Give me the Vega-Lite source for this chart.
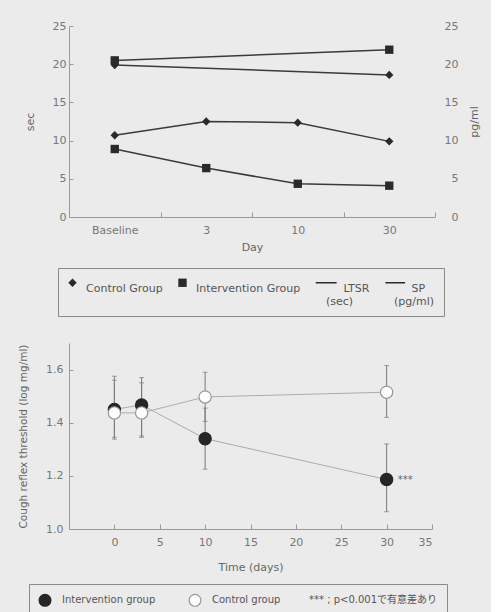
{
  "$schema": "https://vega.github.io/schema/vega-lite/v6.json",
  "background": "#ebebeb",
  "padding": {"left": 18, "top": 20, "right": 12, "bottom": 0},
  "spacing": 26,
  "config": {
    "view": {"stroke": null},
    "font": "DejaVu Sans",
    "axis": {
      "grid": false,
      "domainColor": "#9a9a9a",
      "tickColor": "#9a9a9a",
      "labelColor": "#777777",
      "titleColor": "#666666",
      "labelFont": "DejaVu Sans",
      "titleFont": "DejaVu Sans",
      "labelFontSize": 11,
      "titleFontSize": 11,
      "titleFontWeight": "normal",
      "labelOverlap": false
    },
    "legend": {
      "labelFont": "DejaVu Sans, Noto Sans CJK JP",
      "labelColor": "#555555",
      "labelFontSize": 11
    }
  },
  "vconcat": [
    {
      "width": 366,
      "height": 191,
      "data": {
        "values": [
          {"day": "Baseline", "group": "Control Group", "measure": "LTSR", "value": 10.7},
          {"day": "3", "group": "Control Group", "measure": "LTSR", "value": 12.5},
          {"day": "10", "group": "Control Group", "measure": "LTSR", "value": 12.35},
          {"day": "30", "group": "Control Group", "measure": "LTSR", "value": 9.9},
          {"day": "Baseline", "group": "Intervention Group", "measure": "LTSR", "value": 8.9},
          {"day": "3", "group": "Intervention Group", "measure": "LTSR", "value": 6.4},
          {"day": "10", "group": "Intervention Group", "measure": "LTSR", "value": 4.35},
          {"day": "30", "group": "Intervention Group", "measure": "LTSR", "value": 4.1},
          {"day": "Baseline", "group": "Control Group", "measure": "SP", "value": 19.9},
          {"day": "30", "group": "Control Group", "measure": "SP", "value": 18.6},
          {"day": "Baseline", "group": "Intervention Group", "measure": "SP", "value": 20.5},
          {"day": "30", "group": "Intervention Group", "measure": "SP", "value": 21.9}
        ]
      },
      "layer": [
        {
          "transform": [{"filter": "datum.measure == 'LTSR'"}],
          "encoding": {
            "x": {
              "field": "day", "type": "ordinal", "sort": ["Baseline", "3", "10", "30"],
              "scale": {"paddingInner": 0, "paddingOuter": 0},
              "axis": {"title": "Day", "labelAngle": 0, "tickBand": "extent", "tickSize": -5, "labelPadding": 12, "titlePadding": 6}
            },
            "y": {
              "field": "value", "type": "quantitative",
              "scale": {"domain": [0, 25], "nice": false},
              "axis": {"title": "sec", "values": [0, 5, 10, 15, 20, 25], "tickSize": -4, "labelPadding": 7, "titlePadding": 17}
            }
          },
          "layer": [
            {"mark": {"type": "line", "color": "#3a3a3a", "strokeWidth": 1.5}, "encoding": {"detail": {"field": "group"}}},
            {
              "mark": {"type": "point", "filled": true, "color": "#2a2a2a", "opacity": 1, "size": 70},
              "encoding": {
                "shape": {
                  "field": "group", "type": "nominal",
                  "scale": {"domain": ["Control Group", "Intervention Group", "LTSR", "SP"], "range": ["diamond", "square", "M-0.9,-0.18H4.1V0.18H-0.9Z", "M-0.5,-0.18H4.2V0.18H-0.5Z"]},
                  "legend": {
                    "title": null, "orient": "none", "legendX": -11, "legendY": 242,
                    "direction": "horizontal", "columns": 4,
                    "symbolSize": 70, "symbolFillColor": "#2a2a2a", "symbolStrokeColor": "#2a2a2a", "symbolStrokeWidth": 1.3,
                    "strokeColor": "#8a8a8a", "padding": 9, "columnPadding": 12, "labelOffset": 1,
                    "labelBaseline": "top", "labelLineHeight": 18,
                    "labelExpr": "datum.label == 'LTSR' ? ['\u200b\u00a0\u00a0\u00a0\u00a0\u00a0LTSR', '(sec)'] : datum.label == 'SP' ? ['\u200b\u00a0\u00a0\u00a0\u00a0\u00a0SP', '(pg/ml)'] : ['\u200b\u00a0\u00a0' + datum.label, '\u200b']"
                  }
                }
              }
            }
          ]
        },
        {
          "transform": [{"filter": "datum.measure == 'SP'"}],
          "encoding": {
            "x": {"field": "day", "type": "ordinal", "sort": ["Baseline", "3", "10", "30"]},
            "y": {
              "field": "value", "type": "quantitative",
              "scale": {"domain": [0, 25], "nice": false},
              "axis": {"orient": "right", "title": "pg/ml", "titleAngle": -90, "values": [0, 5, 10, 15, 20, 25], "domain": false, "ticks": false, "labelAlign": "right", "labelPadding": 23, "titlePadding": 21}
            }
          },
          "layer": [
            {"mark": {"type": "line", "color": "#3a3a3a", "strokeWidth": 1.5}, "encoding": {"detail": {"field": "group"}}},
            {
              "mark": {"type": "point", "filled": true, "color": "#2a2a2a", "opacity": 1, "size": 70},
              "encoding": {"shape": {"field": "group", "type": "nominal"}}
            }
          ]
        }
      ],
      "resolve": {"scale": {"y": "independent"}}
    },
    {
      "width": 363,
      "height": 186,
      "data": {
        "values": [
          {"day": 0, "group": "Intervention group", "mean": 1.45, "lo": 1.345, "hi": 1.575, "sig": ""},
          {"day": 3, "group": "Intervention group", "mean": 1.467, "lo": 1.35, "hi": 1.57, "sig": ""},
          {"day": 10, "group": "Intervention group", "mean": 1.34, "lo": 1.225, "hi": 1.455, "sig": ""},
          {"day": 30, "group": "Intervention group", "mean": 1.186, "lo": 1.065, "hi": 1.32, "sig": "***"},
          {"day": 0, "group": "Control group", "mean": 1.437, "lo": 1.338, "hi": 1.56, "sig": ""},
          {"day": 3, "group": "Control group", "mean": 1.437, "lo": 1.345, "hi": 1.55, "sig": ""},
          {"day": 10, "group": "Control group", "mean": 1.497, "lo": 1.405, "hi": 1.59, "sig": ""},
          {"day": 30, "group": "Control group", "mean": 1.515, "lo": 1.42, "hi": 1.615, "sig": ""}
        ]
      },
      "encoding": {
        "x": {
          "field": "day", "type": "quantitative",
          "scale": {"domain": [-5, 35], "nice": false},
          "axis": {"title": "Time (days)", "values": [0, 5, 10, 15, 20, 25, 30, 35], "tickSize": -5, "labelPadding": 12, "titlePadding": 14}
        }
      },
      "layer": [
        {
          "mark": {"type": "line", "color": "#acacac", "strokeWidth": 1},
          "encoding": {
            "y": {
              "field": "mean", "type": "quantitative",
              "scale": {"domain": [1.0, 1.7], "nice": false},
              "axis": {"title": "Cough reflex threshold (log mg/ml)", "values": [1.0, 1.1, 1.2, 1.3, 1.4, 1.5, 1.6, 1.7], "format": ".1f", "tickSize": -4, "labelPadding": 10, "titlePadding": 17, "titleFontSize": 10.5, "labelOverlap": false}
            },
            "detail": {"field": "group"}
          }
        },
        {
          "mark": {"type": "errorbar", "ticks": {"size": 5}, "color": "#7a7a7a"},
          "encoding": {
            "y": {
              "field": "lo", "type": "quantitative",
              "axis": {"title": "Cough reflex threshold (log mg/ml)", "values": [1.0, 1.1, 1.2, 1.3, 1.4, 1.5, 1.6, 1.7], "format": ".1f", "tickSize": -4, "labelPadding": 10, "titlePadding": 17, "titleFontSize": 10.5, "labelOverlap": false}
            },
            "y2": {"field": "hi"}
          }
        },
        {
          "mark": {"type": "point", "size": 150, "opacity": 1, "strokeWidth": 1.2},
          "encoding": {
            "y": {
              "field": "mean", "type": "quantitative",
              "axis": {"title": "Cough reflex threshold (log mg/ml)", "values": [1.0, 1.1, 1.2, 1.3, 1.4, 1.5, 1.6, 1.7], "format": ".1f", "tickSize": -4, "labelPadding": 10, "titlePadding": 17, "titleFontSize": 10.5, "labelOverlap": false}
            },
            "fill": {
              "field": "group", "type": "nominal",
              "scale": {"domain": ["Intervention group", "Control group", "*** ; p<0.001で有意差あり"], "range": ["#262626", "#ffffff", "rgba(0,0,0,0)"]},
              "legend": {"title": null, "orient": "none", "legendX": -40, "legendY": 241, "direction": "horizontal", "columns": 3, "symbolSize": 140, "symbolStrokeWidth": 1.2, "strokeColor": "#8a8a8a", "padding": 9, "columnPadding": 2, "labelOffset": 10, "labelFontSize": 10,
                "labelExpr": "datum.label == 'Intervention group' ? 'Intervention group\u00a0\u00a0\u00a0\u00a0\u00a0\u00a0\u00a0\u00a0\u00a0\u200b' : datum.label"}
            },
            "stroke": {
              "field": "group", "type": "nominal",
              "scale": {"domain": ["Intervention group", "Control group", "*** ; p<0.001で有意差あり"], "range": ["#262626", "#999999", "rgba(0,0,0,0)"]},
              "legend": {"title": null, "orient": "none", "legendX": -40, "legendY": 241, "direction": "horizontal", "columns": 3, "symbolSize": 140, "symbolStrokeWidth": 1.2, "strokeColor": "#8a8a8a", "padding": 9, "columnPadding": 2, "labelOffset": 10, "labelFontSize": 10,
                "labelExpr": "datum.label == 'Intervention group' ? 'Intervention group\u00a0\u00a0\u00a0\u00a0\u00a0\u00a0\u00a0\u00a0\u00a0\u200b' : datum.label"}
            }
          }
        },
        {
          "transform": [{"filter": "datum.sig != ''"}],
          "mark": {"type": "text", "align": "left", "dx": 11, "fontSize": 10, "color": "#666666"},
          "encoding": {
            "y": {"field": "mean", "type": "quantitative"},
            "text": {"field": "sig"}
          }
        }
      ],
      "resolve": {"legend": {"fill": "shared", "stroke": "shared"}}
    }
  ],
  "resolve": {"scale": {"shape": "independent", "fill": "independent", "stroke": "independent"}, "legend": {"shape": "independent", "fill": "independent", "stroke": "independent"}}
}
